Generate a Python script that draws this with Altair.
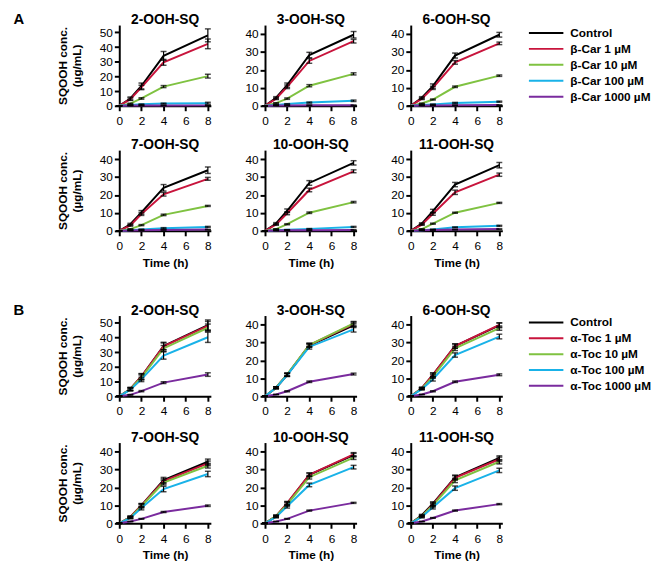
import altair as alt
import pandas as pd

FONT = "Liberation Sans"

time_h = [0, 1, 2, 4, 8]
panel_titles = ["2-OOH-SQ", "3-OOH-SQ", "6-OOH-SQ", "7-OOH-SQ", "10-OOH-SQ", "11-OOH-SQ"]
series_keys = ["s0", "s1", "s2", "s3", "s4"]
car_labels = ["Control", "β-Car 1 µM", "β-Car 10 µM", "β-Car 100 µM", "β-Car 1000 µM"]
toc_labels = ["Control", "α-Toc 1 µM", "α-Toc 10 µM", "α-Toc 100 µM", "α-Toc 1000 µM"]
series_colors = ["#000000", "#C8143C", "#7FC241", "#19B2E8", "#7A2B9E"]

# ---- A: beta-carotene (rows: Control, 1, 10, 100, 1000 uM; cols: time_h) ----
car_2ooh_mean = [[0, 5.0, 13.5, 34.0, 48.0], [0, 4.5, 12.5, 29.6, 42.2], [0, 1.5, 5.0, 13.1, 20.2], [0, 0.5, 1.0, 1.5, 1.8], [0, 0.2, 0.2, 0.2, 0.3]]
car_2ooh_sd = [[0, 1.0, 2.0, 3.0, 4.4], [0, 0.8, 1.5, 2.0, 3.3], [0, 0.3, 0.5, 0.7, 1.3], [0, 0.1, 0.2, 0.3, 0.6], [0, 0.05, 0.05, 0.05, 0.1]]
car_3ooh_mean = [[0, 4.5, 11.5, 28.3, 39.6], [0, 4.0, 10.6, 25.0, 36.0], [0, 1.5, 4.0, 11.2, 17.8], [0, 0.5, 1.0, 1.8, 2.8], [0, 0.2, 0.2, 0.3, 0.3]]
car_3ooh_sd = [[0, 0.6, 1.2, 1.5, 1.8], [0, 0.5, 1.0, 1.3, 1.0], [0, 0.2, 0.4, 0.6, 0.6], [0, 0.1, 0.2, 0.3, 0.4], [0, 0.05, 0.05, 0.05, 0.1]]
car_6ooh_mean = [[0, 4.5, 11.0, 28.0, 39.6], [0, 4.0, 10.0, 24.2, 34.8], [0, 1.3, 3.5, 10.6, 16.8], [0, 0.5, 0.8, 1.6, 2.3], [0, 0.2, 0.2, 0.3, 0.4]]
car_6ooh_sd = [[0, 0.6, 1.2, 1.4, 1.3], [0, 0.5, 0.9, 1.0, 0.7], [0, 0.2, 0.3, 0.4, 0.4], [0, 0.1, 0.2, 0.3, 0.3], [0, 0.05, 0.05, 0.05, 0.1]]
car_7ooh_mean = [[0, 3.7, 10.3, 24.0, 33.8], [0, 3.0, 9.4, 20.4, 29.0], [0, 1.0, 3.2, 8.9, 13.9], [0, 0.3, 0.8, 1.5, 2.2], [0, 0.2, 0.3, 0.5, 0.7]]
car_7ooh_sd = [[0, 0.5, 1.0, 1.8, 1.8], [0, 0.4, 0.8, 1.0, 0.8], [0, 0.2, 0.3, 0.4, 0.3], [0, 0.1, 0.2, 0.3, 0.3], [0, 0.05, 0.05, 0.1, 0.1]]
car_10ooh_mean = [[0, 4.1, 11.2, 26.7, 37.9], [0, 3.5, 9.8, 22.8, 33.2], [0, 1.0, 3.7, 10.1, 16.0], [0, 0.3, 0.6, 1.1, 2.2], [0, 0.2, 0.3, 0.3, 0.5]]
car_10ooh_sd = [[0, 0.5, 1.0, 1.3, 1.2], [0, 0.4, 0.8, 1.0, 0.8], [0, 0.2, 0.3, 0.4, 0.4], [0, 0.1, 0.1, 0.2, 0.3], [0, 0.05, 0.05, 0.05, 0.1]]
car_11ooh_mean = [[0, 4.0, 11.0, 25.8, 36.6], [0, 3.5, 9.5, 21.5, 31.3], [0, 1.0, 4.0, 10.1, 15.6], [0, 0.4, 0.8, 2.0, 2.8], [0, 0.3, 0.5, 0.7, 1.0]]
car_11ooh_sd = [[0, 0.5, 1.0, 1.2, 1.5], [0, 0.4, 0.8, 1.2, 0.9], [0, 0.2, 0.3, 0.3, 0.3], [0, 0.1, 0.2, 0.2, 0.3], [0, 0.05, 0.1, 0.1, 0.1]]

# ---- B: alpha-tocopherol ----
toc_2ooh_mean = [[0, 5.0, 13.5, 34.3, 48.5], [0, 5.0, 13.5, 34.0, 48.0], [0, 4.8, 12.8, 32.6, 46.7], [0, 4.5, 11.5, 27.8, 40.2], [0, 1.0, 3.5, 9.3, 14.8]]
toc_2ooh_sd = [[0, 1.0, 2.0, 2.5, 3.5], [0, 1.0, 1.8, 2.3, 3.0], [0, 0.9, 1.7, 2.0, 2.5], [0, 0.8, 1.5, 2.5, 3.5], [0, 0.2, 0.4, 0.6, 1.2]]
toc_3ooh_mean = [[0, 4.8, 12.0, 28.3, 39.5], [0, 4.8, 12.0, 28.5, 40.2], [0, 4.8, 12.2, 28.6, 40.7], [0, 4.7, 11.8, 27.5, 37.3], [0, 1.0, 2.8, 8.1, 12.4]]
toc_3ooh_sd = [[0, 0.5, 0.8, 1.0, 1.2], [0, 0.5, 0.8, 1.0, 1.2], [0, 0.5, 0.8, 1.0, 1.0], [0, 0.5, 0.8, 1.2, 1.5], [0, 0.1, 0.3, 0.4, 0.5]]
toc_6ooh_mean = [[0, 4.5, 12.0, 28.0, 39.5], [0, 4.5, 12.0, 28.0, 39.8], [0, 4.3, 11.0, 26.7, 38.0], [0, 4.0, 9.5, 23.0, 33.3], [0, 1.0, 2.8, 8.1, 12.0]]
toc_6ooh_sd = [[0, 0.5, 1.0, 1.2, 1.3], [0, 0.5, 1.0, 1.2, 1.2], [0, 0.5, 1.0, 1.2, 1.2], [0, 0.5, 1.0, 1.2, 1.3], [0, 0.1, 0.3, 0.4, 0.5]]
toc_7ooh_mean = [[0, 3.5, 10.0, 24.1, 34.3], [0, 3.5, 10.0, 23.5, 33.4], [0, 3.3, 9.5, 22.7, 32.1], [0, 3.0, 8.5, 19.1, 27.5], [0, 1.0, 2.5, 6.3, 9.8]]
toc_7ooh_sd = [[0, 0.5, 1.0, 1.5, 1.5], [0, 0.5, 1.0, 1.3, 1.3], [0, 0.5, 1.0, 1.3, 1.3], [0, 0.5, 1.0, 1.5, 1.5], [0, 0.1, 0.2, 0.3, 0.4]]
toc_10ooh_mean = [[0, 4.0, 11.0, 27.0, 38.0], [0, 4.0, 11.2, 27.1, 38.4], [0, 4.0, 10.5, 25.7, 36.6], [0, 3.5, 9.5, 21.4, 31.3], [0, 1.0, 2.5, 7.1, 11.4]]
toc_10ooh_sd = [[0, 0.5, 1.0, 1.0, 1.0], [0, 0.5, 1.0, 1.0, 1.0], [0, 0.5, 1.0, 1.0, 1.0], [0, 0.5, 1.0, 1.0, 1.0], [0, 0.1, 0.2, 0.3, 0.3]]
toc_11ooh_mean = [[0, 4.5, 11.0, 25.7, 36.4], [0, 4.0, 10.5, 25.3, 35.7], [0, 4.0, 10.0, 23.9, 34.3], [0, 3.5, 9.0, 19.6, 29.5], [0, 1.0, 3.0, 7.1, 10.7]]
toc_11ooh_sd = [[0, 0.5, 1.0, 1.2, 1.2], [0, 0.5, 1.0, 1.2, 1.2], [0, 0.5, 1.0, 1.2, 1.2], [0, 0.5, 1.0, 1.2, 1.2], [0, 0.1, 0.2, 0.3, 0.3]]

y_title = ["SQOOH conc.", "(µg/mL)"]

color_scale = alt.Scale(domain=series_keys, range=series_colors)

W, H = 93, 82


def panel(title, means, sds, ymax, yticks, first_col, bottom_row):
    rows = []
    for key, m, s in zip(series_keys, means, sds):
        for t, mv, sv in zip(time_h, m, s):
            rows.append({"t": t, "sid": key, "mean": mv,
                         "lo": max(0.0, mv - sv), "hi": mv + sv})
    df = pd.DataFrame(rows)
    xaxis = alt.Axis(values=[0, 2, 4, 6, 8], labelOverlap=False,
                     title="Time (h)" if bottom_row else None)
    xscale = alt.Scale(domain=[0, 8.27], nice=False)
    yaxis = alt.Axis(values=yticks, labelOverlap=False, title=y_title if first_col else None)
    yscale = alt.Scale(domain=[0, ymax], nice=False)

    def X():
        return alt.X("t:Q", scale=xscale, axis=xaxis)

    def Y(field):
        return alt.Y(field, scale=yscale, axis=yaxis)

    base = alt.Chart(df)
    lines = base.mark_line(strokeWidth=2).encode(
        x=X(), y=Y("mean:Q"),
        color=alt.Color("sid:N", scale=color_scale, legend=None),
        order=alt.Order("t:Q"),
    )
    err = base.mark_rule(color="black", strokeWidth=1.2).encode(
        x=X(), y=Y("lo:Q"), y2="hi:Q")
    cap_hi = base.mark_tick(color="black", orient="horizontal", size=6, thickness=1.5).encode(
        x=X(), y=Y("hi:Q"))
    cap_lo = base.mark_tick(color="black", orient="horizontal", size=6, thickness=1.5).encode(
        x=X(), y=Y("lo:Q"))
    return alt.layer(lines, err, cap_hi, cap_lo).properties(
        width=W, height=H,
        title=alt.TitleParams(title, font=FONT, fontSize=14, fontWeight="bold", offset=-2, color="black"),
    )


def legend_chart(labels, top, step):
    df = pd.DataFrame({"sid": series_keys, "label": labels, "idx": list(range(len(labels)))})
    yenc = alt.Y("idx:Q", axis=None,
                 scale=alt.Scale(domain=[0, len(labels) - 1], range=[top, top + 4 * step], nice=False, zero=False))
    rule = alt.Chart(df).mark_rule(strokeWidth=2).encode(
        x=alt.value(0), x2=alt.value(35), y=yenc,
        color=alt.Color("sid:N", scale=color_scale, legend=None))
    txt = alt.Chart(df).mark_text(font=FONT, fontSize=12, fontWeight="bold", align="left",
                                  baseline="middle", color="black").encode(
        x=alt.value(42), y=yenc, text="label:N")
    return alt.layer(rule, txt).properties(width=115, height=H)


def section(means_list, sds_list, labels, letter, leg_top, leg_step, row_gap):
    ymaxes = [55, 45, 45, 45, 45, 45]
    t50 = [0, 10, 20, 30, 40, 50]
    t40 = [0, 10, 20, 30, 40]
    ticks = [t50, t40, t40, t40, t40, t40]
    ps = []
    for i in range(6):
        ps.append(panel(panel_titles[i], means_list[i], sds_list[i], ymaxes[i], ticks[i],
                        first_col=(i % 3 == 0), bottom_row=(i >= 3)))
    row1 = alt.hconcat(
        alt.hconcat(ps[0], ps[1], ps[2], spacing=33),
        legend_chart(labels, leg_top, leg_step), spacing=25)
    row2 = alt.hconcat(ps[3], ps[4], ps[5], spacing=33)
    return alt.vconcat(row1, row2, spacing=row_gap).properties(
        title=alt.TitleParams(letter, anchor="start", font=FONT, fontSize=15, fontWeight="bold",
                              color="black", dx=-44, dy=14, offset=0)
    )


secA = section([car_2ooh_mean, car_3ooh_mean, car_6ooh_mean, car_7ooh_mean, car_10ooh_mean, car_11ooh_mean],
               [car_2ooh_sd, car_3ooh_sd, car_6ooh_sd, car_7ooh_sd, car_10ooh_sd, car_11ooh_sd],
               car_labels, "A", 8, 16.2, 12)
secB = section([toc_2ooh_mean, toc_3ooh_mean, toc_6ooh_mean, toc_7ooh_mean, toc_10ooh_mean, toc_11ooh_mean],
               [toc_2ooh_sd, toc_3ooh_sd, toc_6ooh_sd, toc_7ooh_sd, toc_10ooh_sd, toc_11ooh_sd],
               toc_labels, "B", 7, 16.1, 14)

chart = alt.vconcat(secA, secB, spacing=35).properties(
    padding={"left": 5, "top": 0, "right": 0, "bottom": 0}
).configure_view(stroke=None).configure_axis(
    grid=False, domainColor="black", domainWidth=2, tickColor="black", tickWidth=2,
    tickSize=5, labelFont=FONT, labelFontSize=12, labelColor="black", labelPadding=2,
    labelOverlap=False,
    titleFont=FONT, titleFontSize=12, titleFontWeight="bold", titleColor="black",
).configure_axisX(labelPadding=5, titlePadding=6, labelFlush=False
).configure_axisY(titlePadding=16, labelFlush=False)

chart.save("out.html", embed_options={"renderer": "svg", "actions": False})
